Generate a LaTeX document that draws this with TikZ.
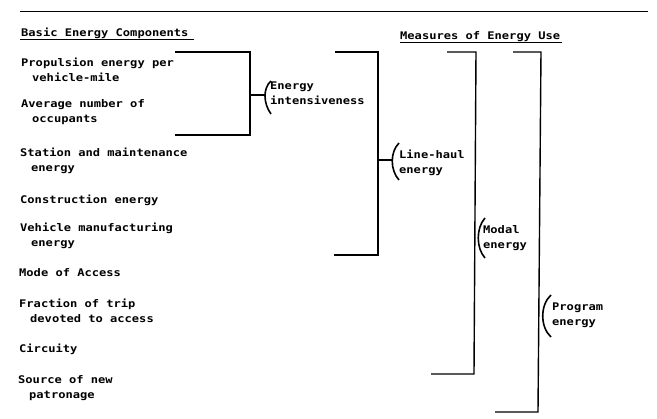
\documentclass[tikz,border=0pt]{standalone}
\usepackage{fontspec}
\newfontfamily\tw[FakeStretch=1.15]{DejaVu Sans Mono}
\begin{document}
\begin{tikzpicture}[x=1pt,y=-1pt,
  txt/.style={anchor=base west,inner sep=0pt,align=left,font=\tw\bfseries\fontsize{10.5}{15}\selectfont},
  lbl/.style={anchor=base west,inner sep=0pt,align=left,font=\tw\bfseries\fontsize{10.5}{15.5}\selectfont},
  brk/.style={line width=1.4pt},
  par/.style={line width=1.6pt}]
\useasboundingbox (0,0) rectangle (657,419);
% top rule
\coordinate (r1) at (20,12);
\coordinate (r2) at (648,12);
\draw[line width=1pt] (r1) -- (r2);
% headings
\node[txt] (h1) at (21,37) {Basic Energy Components};
\draw[line width=1pt] ([xshift=-1pt,yshift=-2.5pt]h1.base west) -- ([xshift=5pt,yshift=-2.5pt]h1.base east);
\node[txt] (h2) at (400,40) {Measures of Energy Use};
\draw[line width=1pt] ([yshift=-2.5pt]h2.base west) -- ([xshift=2pt,yshift=-2.5pt]h2.base east);
% left items (base = last line)
\node[txt] (i1) at (21,82) {Propulsion energy per\\\hspace*{11pt}vehicle-mile};
\node[txt] (i2) at (21,123) {Average number of\\\hspace*{11pt}occupants};
\node[txt] (i3) at (20,172) {Station and maintenance\\\hspace*{11pt}energy};
\node[txt] (i4) at (20,204) {Construction energy};
\node[txt] (i5) at (20,247) {Vehicle manufacturing\\\hspace*{11pt}energy};
\node[txt] (i6) at (19,277) {Mode of Access};
\node[txt] (i7) at (19,323) {Fraction of trip\\\hspace*{11pt}devoted to access};
\node[txt] (i8) at (19,353) {Circuity};
\node[txt] (i9) at (18,399) {Source of new\\\hspace*{11pt}patronage};
% bracket 1: energy intensiveness
\coordinate (b1a) at (175,52);
\coordinate (b1b) at (175,135);
\coordinate (b1m) at (250,95);
\draw[brk] (b1a) -- (250,52) -- (250,135) -- (b1b);
\node[lbl] (l1) at (270,105) {Energy\\intensiveness};
\coordinate (p1) at (265,95);
\draw[brk] (b1m) -- (p1);
\draw[par] (271,81) .. controls (263,88) and (263,103) .. (271,114);
% bracket 2: line-haul
\coordinate (b2a) at (335,52);
\coordinate (b2b) at (334,255);
\coordinate (b2m) at (378,160);
\draw[brk] (b2a) -- (378,52) -- (378,255) -- (b2b);
\node[lbl] (l2) at (399,174) {Line-haul\\energy};
\coordinate (p2) at (393,160);
\draw[brk] (b2m) -- (p2);
\draw[par] (399,143) .. controls (390,152) and (390,170) .. (399,180);
% bracket 3: modal
\coordinate (b3a) at (447,52);
\coordinate (b3b) at (431,374);
\draw[brk] (b3a) -- (476,52) -- (474,374) -- (b3b);
\node[lbl] (l3) at (483,249) {Modal\\energy};
\draw[par] (485,218) .. controls (476,228) and (476,248) .. (485,258);
% bracket 4: program
\coordinate (b4a) at (513,52);
\coordinate (b4b) at (495,412);
\draw[brk] (b4a) -- (541,52) -- (538,412) -- (b4b);
\node[lbl] (l4) at (552,326) {Program\\energy};
\draw[par] (551,295) .. controls (540,305) and (540,327) .. (551,337);
\end{tikzpicture}
\end{document}
